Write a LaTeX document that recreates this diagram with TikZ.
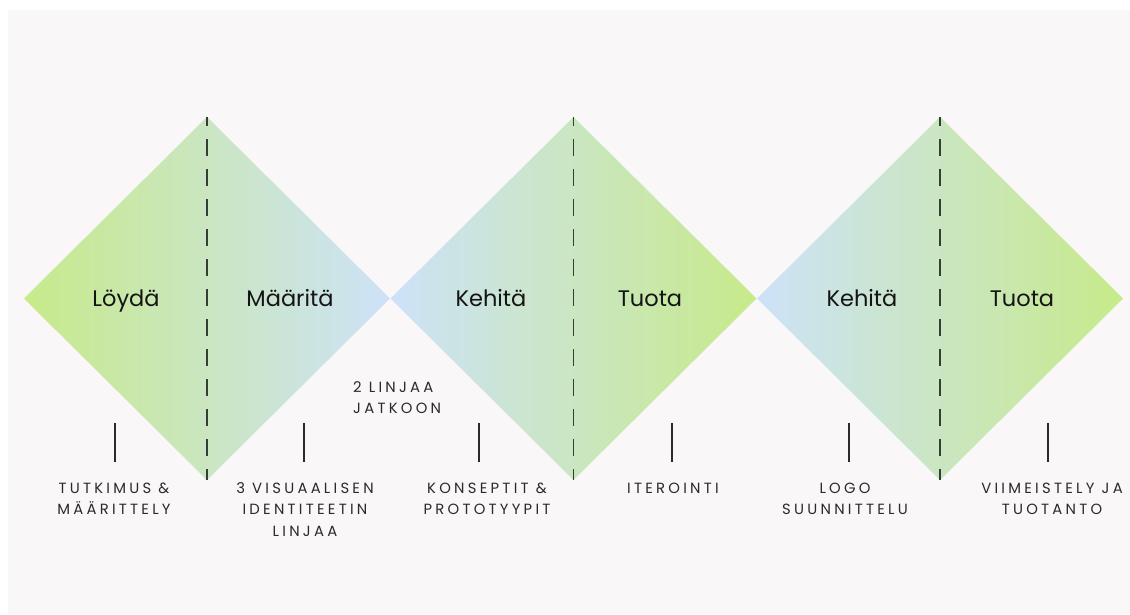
\documentclass[tikz,border=0pt]{standalone}
\usepackage{fontspec}
\setmainfont{Poppins}
\newfontfamily\labfont[LetterSpace=22]{Poppins}
\definecolor{bgpanel}{HTML}{F9F7F8}
\definecolor{lime}{HTML}{C7EA8A}
\definecolor{sky}{HTML}{CDE2F8}
\definecolor{ink}{HTML}{2A2A2A}
\definecolor{dashink}{HTML}{353D35}
\tikzset{
  heading/.style={font=\fontsize{22.5}{26}\selectfont, text=black!92, inner sep=0pt, anchor=base},
  lab/.style={font=\labfont\fontsize{14.8}{21.5}\selectfont, text=ink, inner sep=0pt, align=center, anchor=north},
  divider/.style={dashink, line width=1.6pt, dash pattern=on 17pt off 13pt, dash phase=8pt},
  tick/.style={ink, line width=1.5pt},
}
\begin{document}
\begin{tikzpicture}[x=1pt,y=-1pt]
\useasboundingbox (0,0) rectangle (1130,614);
\fill[white] (0,0) rectangle (1130,614);
\fill[bgpanel] (8,10) rectangle (1130,614);

% diamonds
\shade[left color=lime, right color=sky] (24,298.5) -- (207,117) -- (390,298.5) -- (207,480) -- cycle;
\shade[left color=sky, right color=lime] (390.5,298.5) -- (573.5,117) -- (756.5,298.5) -- (573.5,480) -- cycle;
\shade[left color=sky, right color=lime] (757,298.5) -- (940,117) -- (1123,298.5) -- (940,480) -- cycle;

% divider coordinates
\coordinate (t1) at (207,117);   \coordinate (b1) at (207,480);
\coordinate (t2) at (573.5,117); \coordinate (b2) at (573.5,480);
\coordinate (t3) at (940,117);   \coordinate (b3) at (940,480);
\draw[divider] (t1) -- (b1);
\draw[divider] (t2) -- (b2);
\draw[divider] (t3) -- (b3);

% headings
\node[heading] (h1) at (126,306) {Löydä};
\node[heading] (h2) at (290,306) {Määritä};
\node[heading] (h3) at (491,306) {Kehitä};
\node[heading] (h4) at (650,306) {Tuota};
\node[heading] (h5) at (862,306) {Kehitä};
\node[heading] (h6) at (1022,306) {Tuota};

% ticks
\foreach \i/\x in {1/115,2/304,3/479,4/672,5/849,6/1048}{
  \coordinate (k\i a) at (\x,423);
  \coordinate (k\i b) at (\x,462);
  \draw[tick] (k\i a) -- (k\i b);
}

% labels
\node[lab] (l1) at (114,479) {\rule{0pt}{14pt}TUTKIMUS \&\\MÄÄRITTELY};
\node[lab] (l2) at (305,479) {\rule{0pt}{14pt}3 VISUAALISEN\\IDENTITEETIN\\LINJAA};
\node[lab, align=left, anchor=north west] (l0) at (353,378) {\rule{0pt}{14pt}2 LINJAA\\JATKOON};
\node[lab] (l3) at (487,479) {\rule{0pt}{14pt}KONSEPTIT \&\\PROTOTYYPIT};
\node[lab] (l4) at (673,479) {\rule{0pt}{14pt}ITEROINTI};
\node[lab] (l5) at (845,479) {\rule{0pt}{14pt}LOGO\\SUUNNITTELU};
\node[lab] (l6) at (1052,479) {\rule{0pt}{14pt}VIIMEISTELY JA\\TUOTANTO};
\end{tikzpicture}
\end{document}
